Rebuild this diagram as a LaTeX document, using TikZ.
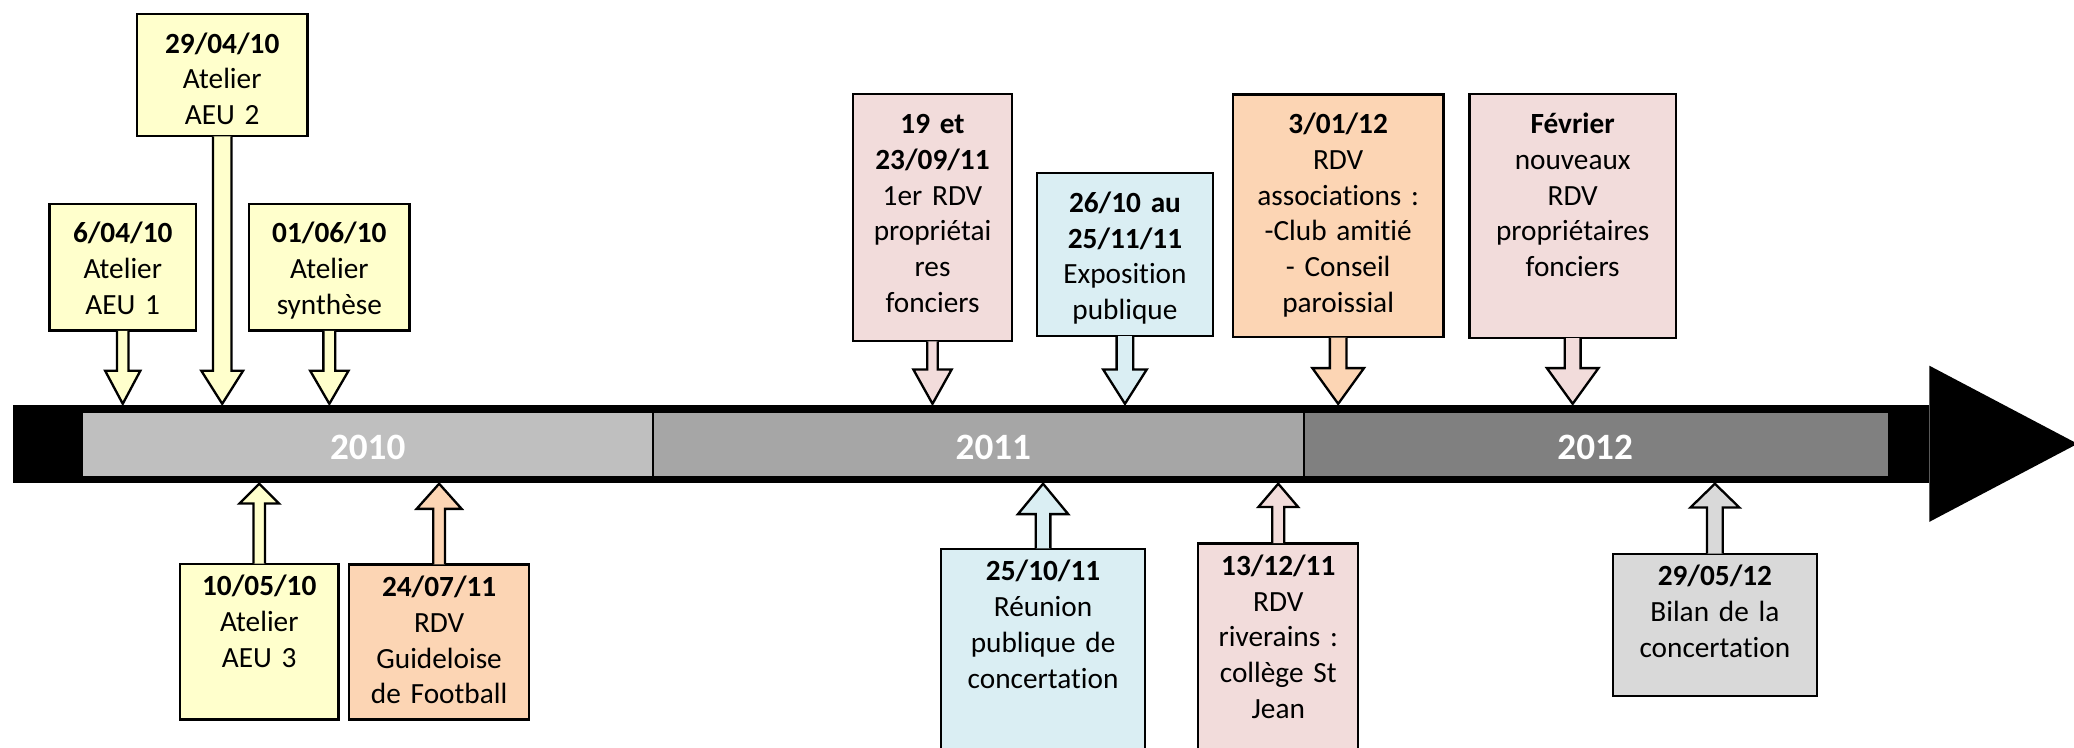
\documentclass[tikz,border=0pt]{standalone}
\usepackage{fontspec}
\setmainfont[Ligatures=NoCommon]{Carlito}
\usetikzlibrary{calc}

\definecolor{jaune}{HTML}{FFFFCC}
\definecolor{rose}{HTML}{F2DCDB}
\definecolor{bleu}{HTML}{DAEEF3}
\definecolor{saumon}{HTML}{FCD5B4}
\definecolor{grisclair}{HTML}{D9D9D9}
\definecolor{an1}{HTML}{BFBFBF}
\definecolor{an2}{HTML}{A6A6A6}
\definecolor{an3}{HTML}{808080}

\newcommand{\evfont}{\fontsize{6.3pt}{7.7pt}\selectfont}

% fleche vers le bas : boite, couleur, demi-tige, demi-tete, longueur tete
\newcommand{\flbas}[5]{%
  \coordinate (#1p) at (#1.south |- axe.north);
  \filldraw[fill=#2, line width=0.5pt]
    ($(#1.south)+(-#3,-0.6)$) -- ($(#1p)+(-#3,-#5)$) -- ($(#1p)+(-#4,-#5)$) -- (#1p)
    -- ($(#1p)+(#4,-#5)$) -- ($(#1p)+(#3,-#5)$) -- ($(#1.south)+(#3,-0.6)$);}
% fleche vers le haut
\newcommand{\flhaut}[5]{%
  \coordinate (#1p) at (#1.north |- axe.south);
  \filldraw[fill=#2, line width=0.5pt]
    ($(#1.north)+(-#3,0.6)$) -- ($(#1p)+(-#3,#5)$) -- ($(#1p)+(-#4,#5)$) -- (#1p)
    -- ($(#1p)+(#4,#5)$) -- ($(#1p)+(#3,#5)$) -- ($(#1.north)+(#3,0.6)$);}

\tikzset{
  evt/.style={draw, line width=0.5pt, anchor=north, align=center, font=\evfont,
    inner xsep=0.5mm, inner ysep=0.5mm},
  haut/.style={evt, text height=2.46mm},
  bas/.style={evt, text height=1.91mm},
  seg/.style={inner sep=0, minimum height=4.8mm},
  annee/.style={text=white, font=\fontsize{8pt}{9pt}\selectfont\bfseries, inner sep=0}
}

\begin{document}
\begin{tikzpicture}[x=0.1mm, y=-0.1mm]
  \useasboundingbox (0,0) rectangle (1568,565);
%  axe du temps
  \node (axe) [fill=black, inner sep=0, minimum width=144.8mm, minimum height=5.9mm] at (734,335.5) {};
  \fill ($(axe.east)+(0,-59)$) -- ($(axe.east)+(112,0)$) -- ($(axe.east)+(0,59)$) -- cycle;
  \node (s10) [seg, fill=an1, minimum width=43mm] at (278,336) {};
  \node (s11) [seg, fill=an2, minimum width=49.2mm] at (739,336) {};
  \node (s12) [seg, fill=an3, minimum width=44.2mm] at (1206,336) {};
  \draw[line width=0.4pt] (s10.north east) -- (s10.south east);
  \draw[line width=0.4pt] (s11.north east) -- (s11.south east);
  \node (t10) [annee] at (278,338) {2010};
  \node (t11) [annee] at (751,338) {2011};
  \node (t12) [annee] at (1206,338) {2012};

%  au-dessus
  \node (e1) [haut, fill=jaune, text width=10.1mm, text depth=6.12mm] at (92.8,153.2)
    {\textbf{6/04/10}\\Atelier\\AEU 1};
  \node (e2) [haut, fill=jaune, text width=11.9mm, text depth=5.78mm] at (168,9.6)
    {\textbf{29/04/10}\\Atelier\\AEU 2};
  \node (e3) [haut, fill=jaune, text width=11.1mm, text depth=6.12mm] at (249,153.2)
    {\textbf{01/06/10}\\Atelier\\synthèse};
  \node (e4) [haut, fill=rose, text width=11mm, text depth=15.2mm] at (705,70.4)
    {\textbf{19 et}\\\textbf{23/09/11}\\1er RDV\\propriétai\\res\\fonciers};
  \node (e5) [haut, fill=bleu, text width=12.3mm, text depth=8.84mm] at (850.5,130)
    {\textbf{26/10 au}\\\textbf{25/11/11}\\Exposition\\publique};
  \node (e6) [haut, fill=saumon, text width=14.9mm, text depth=14.89mm] at (1011.7,70.5)
    {\textbf{3/01/12}\\RDV\\associations :\\-Club amitié\\- Conseil\\paroissial};
  \node (e7) [haut, fill=rose, text width=14.6mm, text depth=14.94mm] at (1189,70.4)
    {\textbf{Février}\\nouveaux\\RDV\\propriétaires\\fonciers};

%  en dessous
  \node (e8) [bas, fill=jaune, text width=11mm, text depth=8.83mm] at (196,425.6)
    {\textbf{10/05/10}\\Atelier\\AEU 3};
  \node (e9) [bas, fill=saumon, text width=12.6mm, text depth=8.79mm] at (332,426)
    {\textbf{24/07/11}\\RDV\\Guideloise\\de Football};
  \node (e10) [bas, fill=bleu, text width=14.4mm, text depth=13.6mm] at (788.6,414)
    {\textbf{25/10/11}\\Réunion\\publique de\\concertation};
  \node (e11) [bas, fill=rose, text width=11.1mm, text depth=14.1mm] at (966.4,410)
    {\textbf{13/12/11}\\RDV\\riverains :\\collège St\\Jean};
  \node (e12) [bas, fill=grisclair, text width=14.4mm, text depth=7.84mm] at (1296.5,418)
    {\textbf{29/05/12}\\Bilan de la\\concertation};

  \flbas{e1}{jaune}{4.4}{13.3}{25}
  \flbas{e2}{jaune}{7}{15.8}{25}
  \flbas{e3}{jaune}{4.5}{14.5}{25}
  \flbas{e4}{rose}{4}{14.5}{26}
  \flbas{e5}{bleu}{6.3}{16.5}{26}
  \flbas{e6}{saumon}{6.3}{19.5}{27}
  \flbas{e7}{rose}{6}{19.5}{27}
  \flhaut{e8}{jaune}{4.3}{15}{15}
  \flhaut{e9}{saumon}{4.4}{17}{19}
  \flhaut{e10}{bleu}{5.5}{19}{23}
  \flhaut{e11}{rose}{4.5}{15}{17.6}
  \flhaut{e12}{grisclair}{6}{18.5}{18}
\end{tikzpicture}
\end{document}
